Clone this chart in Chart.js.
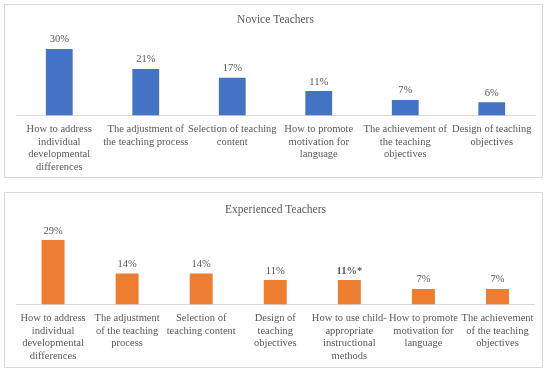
<!DOCTYPE html>
<html>
<head>
<meta charset="utf-8">
<script src="https://cdn.jsdelivr.net/npm/chart.js@4/dist/chart.umd.min.js"></script>
<style>
  body { margin: 0; background: #fff; width: 550px; height: 372px; position: relative; overflow: hidden; }
  .box { position: absolute; left: 4px; width: 537px; border: 1px solid #d9d9d9; }
  #boxTop { top: 4px; height: 172px; }
  #boxBottom { top: 192px; height: 174px; }
  canvas { position: absolute; left: 5px; display: block; }
  #novice { top: 5px; }
  #experienced { top: 193px; }
</style>
</head>
<body>
<div class="box" id="boxTop"></div>
<div class="box" id="boxBottom"></div>
<canvas id="novice" width="537" height="176"></canvas>
<canvas id="experienced" width="537" height="177"></canvas>
<script>
const noviceCategories = [
    ['How to address', 'individual', 'developmental', 'differences'],
    ['The adjustment of', 'the teaching process'],
    ['Selection of teaching', 'content'],
    ['How to promote', 'motivation for', 'language'],
    ['The achievement of', 'the teaching', 'objectives'],
    ['Design of teaching', 'objectives']
];
const noviceValues = [30, 21, 17, 11, 7, 6];
const noviceLabels = ['30%', '21%', '17%', '11%', '7%', '6%'];

const experiencedCategories = [
    ['How to address', 'individual', 'developmental', 'differences'],
    ['The adjustment', 'of the teaching', 'process'],
    ['Selection of', 'teaching content'],
    ['Design of', 'teaching', 'objectives'],
    ['How to use child-', 'appropriate', 'instructional', 'methods'],
    ['How to promote', 'motivation for', 'language'],
    ['The achievement', 'of the teaching', 'objectives']
];
const experiencedValues = [29, 14, 14, 11, 11, 7, 7];
const experiencedLabels = ['29%', '14%', '14%', '11%', '11%*', '7%', '7%'];
const experiencedBold = [false, false, false, false, true, false, false];

const FONT = "'Liberation Serif', 'Times New Roman', serif";
const TEXT = '#595959';

// draws the percent text above each bar
const valueLabels = {
    id: 'valueLabels',
    afterDatasetsDraw(chart, args, opts) {
        const ctx = chart.ctx;
        const meta = chart.getDatasetMeta(0);
        ctx.save();
        ctx.fillStyle = TEXT;
        ctx.textAlign = 'center';
        ctx.textBaseline = 'bottom';
        meta.data.forEach((bar, i) => {
            const bold = opts.bold && opts.bold[i];
            ctx.font = (bold ? 'bold ' : '') + '10.5px ' + FONT;
            ctx.fillText(opts.texts[i], bar.x, bar.y - 4);
        });
        ctx.restore();
    }
};

function makeChart(id, title, cats, values, texts, bold, color, yMax, pad) {
    return new Chart(document.getElementById(id), {
        type: 'bar',
        data: {
            labels: cats,
            datasets: [{
                data: values,
                backgroundColor: color,
                categoryPercentage: 1,
                barPercentage: 0.31
            }]
        },
        plugins: [valueLabels],
        options: {
            responsive: false,
            animation: false,
            layout: {padding: pad},
            plugins: {
                legend: {display: false},
                tooltip: {enabled: false},
                title: {
                    display: true,
                    text: title,
                    color: TEXT,
                    font: {family: FONT, size: 11.5, weight: 'normal'},
                    padding: {top: 4, bottom: 0}
                },
                valueLabels: {texts: texts, bold: bold}
            },
            scales: {
                x: {
                    grid: {display: false, drawTicks: false},
                    border: {color: '#d9d9d9', width: 1},
                    ticks: {
                        color: TEXT,
                        font: {family: FONT, size: 10.5, lineHeight: 1.18},
                        maxRotation: 0,
                        autoSkip: false,
                        padding: 8
                    }
                },
                y: {display: false, min: 0, max: yMax}
            }
        }
    });
}

makeChart('novice', 'Novice Teachers', noviceCategories, noviceValues, noviceLabels, null,
    '#4472C4', 40, {left: 11, right: 7, top: 4, bottom: 0});
makeChart('experienced', 'Experienced Teachers', experiencedCategories, experiencedValues, experiencedLabels, experiencedBold,
    '#ED7D31', 39.5, {left: 11, right: 7, top: 6, bottom: 0});
</script>
</body>
</html>
